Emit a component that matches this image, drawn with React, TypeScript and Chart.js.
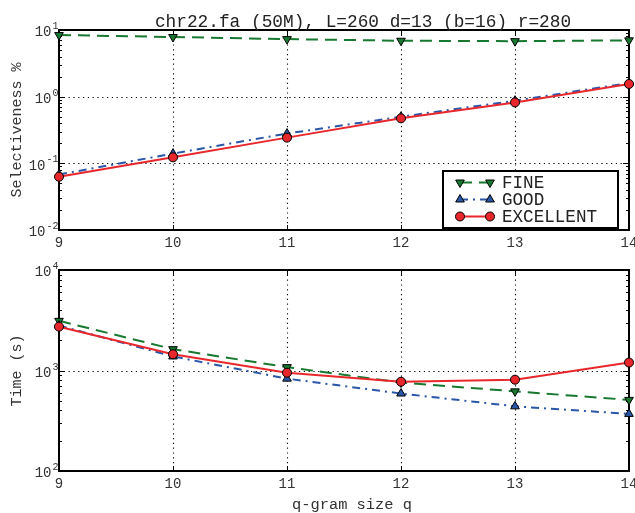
import React, { useEffect, useRef } from "react";
import { Chart, registerables } from "chart.js";
import { drawPoint } from "chart.js/helpers";

Chart.register(...registerables);

const FONT = "'Liberation Mono', 'DejaVu Sans Mono', monospace";

// ---- data ----
const qSizes = [9, 10, 11, 12, 13, 14];
const seriesNames = ["FINE", "GOOD", "EXCELLENT"];
const selFine = [8.4, 7.85, 7.3, 6.9, 6.8, 7.0];
const selGood = [0.068, 0.14, 0.28, 0.5, 0.87, 1.6];
const selExcellent = [0.063, 0.123, 0.243, 0.473, 0.82, 1.55];
const timeFine = [3120, 1630, 1080, 760, 620, 510];
const timeGood = [2800, 1380, 830, 590, 440, 370];
const timeExcellent = [2730, 1450, 950, 773, 810, 1200];
const xTickValues = [9, 10, 11, 12, 13, 14];
const selTickValues = [0.01, 0.1, 1, 10];
const timeTickValues = [100, 1000, 10000];
const titleText = "chr22.fa (50M), L=260 d=13 (b=16) r=280";
const selAxisTitle = "Selectiveness %";
const timeAxisTitle = "Time (s)";
const xAxisTitle = "q-gram size q";

const seriesStyles = [
  { color: "#17792f", dash: [12, 7], pointStyle: "triangle", rotation: 180, radius: 5 },
  { color: "#2a56a8", dash: [8, 5, 2, 5], pointStyle: "triangle", rotation: 0, radius: 5 },
  { color: "#e8272c", dash: [], pointStyle: "circle", rotation: 0, radius: 4.5 },
];

function makeDatasets(values: number[][]) {
  return values.map((vals, i) => {
    const s = seriesStyles[i];
    return {
      label: seriesNames[i],
      data: qSizes.map((q, j) => ({ x: q, y: vals[j] })),
      borderColor: s.color,
      borderWidth: 2,
      borderDash: s.dash,
      pointStyle: s.pointStyle,
      pointRotation: s.rotation,
      pointRadius: s.radius,
      pointBackgroundColor: s.color,
      pointBorderColor: "#000",
      pointBorderWidth: 1,
      tension: 0,
      clip: false,
      order: 2 - i,
    };
  });
}

const axesDecor = {
  id: "axesDecor",
  beforeDatasetsDraw(chart: any) {
    const { ctx, chartArea: a, scales } = chart;
    const xs = scales.x;
    const ys = scales.y;
    ctx.save();
    ctx.strokeStyle = "#000";
    // dotted grid
    ctx.lineWidth = 1.1;
    ctx.setLineDash([1.2, 3.6]);
    xs.ticks.forEach((t: any) => {
      const p = Math.round(xs.getPixelForValue(t.value)) + 0.5;
      if (p > a.left + 2 && p < a.right - 2) {
        ctx.beginPath();
        ctx.moveTo(p, a.top);
        ctx.lineTo(p, a.bottom);
        ctx.stroke();
      }
    });
    ys.ticks.forEach((t: any) => {
      const p = Math.round(ys.getPixelForValue(t.value)) + 0.5;
      if (p > a.top + 2 && p < a.bottom - 2) {
        ctx.beginPath();
        ctx.moveTo(a.left, p);
        ctx.lineTo(a.right, p);
        ctx.stroke();
      }
    });
    ctx.setLineDash([]);
    ctx.lineWidth = 1;
    // major x ticks (inward, top & bottom)
    xs.ticks.forEach((t: any) => {
      const p = Math.round(xs.getPixelForValue(t.value)) + 0.5;
      ctx.beginPath();
      ctx.moveTo(p, a.bottom);
      ctx.lineTo(p, a.bottom - 5);
      ctx.moveTo(p, a.top);
      ctx.lineTo(p, a.top + 5);
      ctx.stroke();
    });
    // major y ticks
    ys.ticks.forEach((t: any) => {
      const p = Math.round(ys.getPixelForValue(t.value)) + 0.5;
      ctx.beginPath();
      ctx.moveTo(a.left, p);
      ctx.lineTo(a.left + 6, p);
      ctx.moveTo(a.right, p);
      ctx.lineTo(a.right - 6, p);
      ctx.stroke();
    });
    // minor y ticks (log)
    const e0 = Math.floor(Math.log10(ys.min));
    const e1 = Math.ceil(Math.log10(ys.max));
    for (let e = e0; e < e1; e++) {
      for (let m = 2; m <= 9; m++) {
        const v = m * Math.pow(10, e);
        if (v <= ys.min || v >= ys.max) continue;
        const p = Math.round(ys.getPixelForValue(v)) + 0.5;
        ctx.beginPath();
        ctx.moveTo(a.left, p);
        ctx.lineTo(a.left + 3, p);
        ctx.moveTo(a.right, p);
        ctx.lineTo(a.right - 3, p);
        ctx.stroke();
      }
    }
    // frame
    ctx.lineWidth = 2;
    ctx.strokeRect(a.left, a.top, a.right - a.left, a.bottom - a.top);
    ctx.restore();
  },
  afterDraw(chart: any, _args: any, opts: any) {
    const { ctx, chartArea: a, scales } = chart;
    const xs = scales.x;
    const ys = scales.y;
    ctx.save();
    ctx.fillStyle = "#333";
    // x tick labels
    ctx.font = `14px ${FONT}`;
    ctx.textAlign = "center";
    ctx.textBaseline = "top";
    xs.ticks.forEach((t: any) => {
      const p = xs.getPixelForValue(t.value);
      ctx.fillText(String(t.value), p, a.bottom + 6);
    });
    // y tick labels: 10^e
    ys.ticks.forEach((t: any) => {
      const p = ys.getPixelForValue(t.value);
      const e = String(Math.round(Math.log10(t.value)));
      ctx.textAlign = "right";
      ctx.textBaseline = "middle";
      ctx.font = `10px ${FONT}`;
      const ew = ctx.measureText(e).width;
      ctx.fillText(e, a.left - 0.5, p - 3.5);
      ctx.font = `14px ${FONT}`;
      ctx.fillText("10", a.left - 1.5 - ew, p + 2.5);
    });
    // x axis title
    if (opts && opts.xTitle) {
      ctx.fillStyle = "#333";
      ctx.font = `15.4px ${FONT}`;
      ctx.textAlign = "center";
      ctx.textBaseline = "middle";
      ctx.fillText(opts.xTitle, (a.left + a.right) / 2 + 8, a.bottom + 34);
    }
    // title
    if (opts && opts.title) {
      ctx.fillStyle = "#222";
      ctx.font = `17.8px ${FONT}`;
      ctx.textAlign = "center";
      ctx.textBaseline = "alphabetic";
      ctx.fillText(opts.title, (a.left + a.right) / 2 + 19, a.top - 3);
    }
    // legend
    if (opts && opts.legend) {
      const w = 175;
      const h = 57;
      const right = a.right - 11;
      const bottom = a.bottom - 2;
      const left = right - w;
      const top = bottom - h;
      ctx.fillStyle = "#fff";
      ctx.fillRect(left, top, w, h);
      ctx.lineWidth = 2;
      ctx.strokeStyle = "#000";
      ctx.strokeRect(left, top, w, h);
      chart.data.datasets.forEach((ds: any, i: number) => {
        const y = top + 11.5 + i * 17;
        const x1 = left + 17;
        const x2 = left + 47;
        ctx.strokeStyle = ds.borderColor;
        ctx.lineWidth = ds.borderWidth;
        ctx.setLineDash(ds.borderDash || []);
        ctx.beginPath();
        ctx.moveTo(x1, y);
        ctx.lineTo(x2, y);
        ctx.stroke();
        ctx.setLineDash([]);
        [x1, x2].forEach((x) => {
          ctx.fillStyle = ds.pointBackgroundColor;
          ctx.strokeStyle = ds.pointBorderColor;
          ctx.lineWidth = ds.pointBorderWidth;
          drawPoint(
            ctx,
            {
              pointStyle: ds.pointStyle,
              rotation: ds.pointRotation,
              radius: ds.pointRadius,
              borderWidth: ds.pointBorderWidth,
            } as any,
            x,
            y
          );
        });
        ctx.fillStyle = "#222";
        ctx.font = `17.6px ${FONT}`;
        ctx.textAlign = "left";
        ctx.textBaseline = "middle";
        ctx.fillText(ds.label, left + 59, y + 1);
      });
    }
    ctx.restore();
  },
};

function makeConfig(
  values: number[][],
  yMin: number,
  yMax: number,
  yTicks: number[],
  yTitle: string,
  padTop: number,
  xHeight: number,
  decor: any
): any {
  return {
    type: "line",
    data: { datasets: makeDatasets(values) },
    plugins: [axesDecor],
    options: {
      animation: false,
      responsive: false,
      events: [],
      layout: { padding: { top: padTop, right: 6, left: 0, bottom: 0 } },
      plugins: {
        legend: { display: false },
        tooltip: { enabled: false },
        title: { display: false },
        axesDecor: decor,
      },
      scales: {
        x: {
          type: "linear",
          min: 9,
          max: 14,
          afterBuildTicks: (s: any) => {
            s.ticks = xTickValues.map((v) => ({ value: v }));
          },
          afterFit: (s: any) => {
            s.height = xHeight;
            s.paddingLeft = 0;
            s.paddingRight = 0;
          },
          ticks: { display: false },
          grid: { display: false },
          border: { display: false },
        },
        y: {
          type: "logarithmic",
          min: yMin,
          max: yMax,
          afterBuildTicks: (s: any) => {
            s.ticks = yTicks.map((v) => ({ value: v }));
          },
          afterFit: (s: any) => {
            s.width = 59;
            s.paddingTop = 0;
            s.paddingBottom = 0;
          },
          ticks: { display: false },
          grid: { display: false },
          border: { display: false },
          title: {
            display: true,
            text: yTitle,
            color: "#333",
            font: { family: FONT, size: 15, lineHeight: 1.2 },
            padding: { top: 8, bottom: 0 },
          },
        },
      },
    },
  };
}

export default function App() {
  const topRef = useRef<HTMLCanvasElement>(null);
  const botRef = useRef<HTMLCanvasElement>(null);

  useEffect(() => {
    const top = new Chart(
      topRef.current as HTMLCanvasElement,
      makeConfig(
        [selFine, selGood, selExcellent],
        0.01,
        10,
        selTickValues,
        selAxisTitle,
        30,
        25,
        { title: titleText, legend: true, xTitle: null }
      )
    );
    const bot = new Chart(
      botRef.current as HTMLCanvasElement,
      makeConfig(
        [timeFine, timeGood, timeExcellent],
        100,
        10000,
        timeTickValues,
        timeAxisTitle,
        15,
        42,
        { title: null, legend: false, xTitle: xAxisTitle }
      )
    );
    return () => {
      top.destroy();
      bot.destroy();
    };
  }, []);

  return (
    <div style={{ position: "absolute", left: 0, top: 0, width: 635, height: 513, background: "#fff" }}>
      <canvas
        ref={topRef}
        width={635}
        height={255}
        style={{ position: "absolute", left: 0, top: 0, width: 635, height: 255 }}
      />
      <canvas
        ref={botRef}
        width={635}
        height={258}
        style={{ position: "absolute", left: 0, top: 255, width: 635, height: 258 }}
      />
    </div>
  );
}
